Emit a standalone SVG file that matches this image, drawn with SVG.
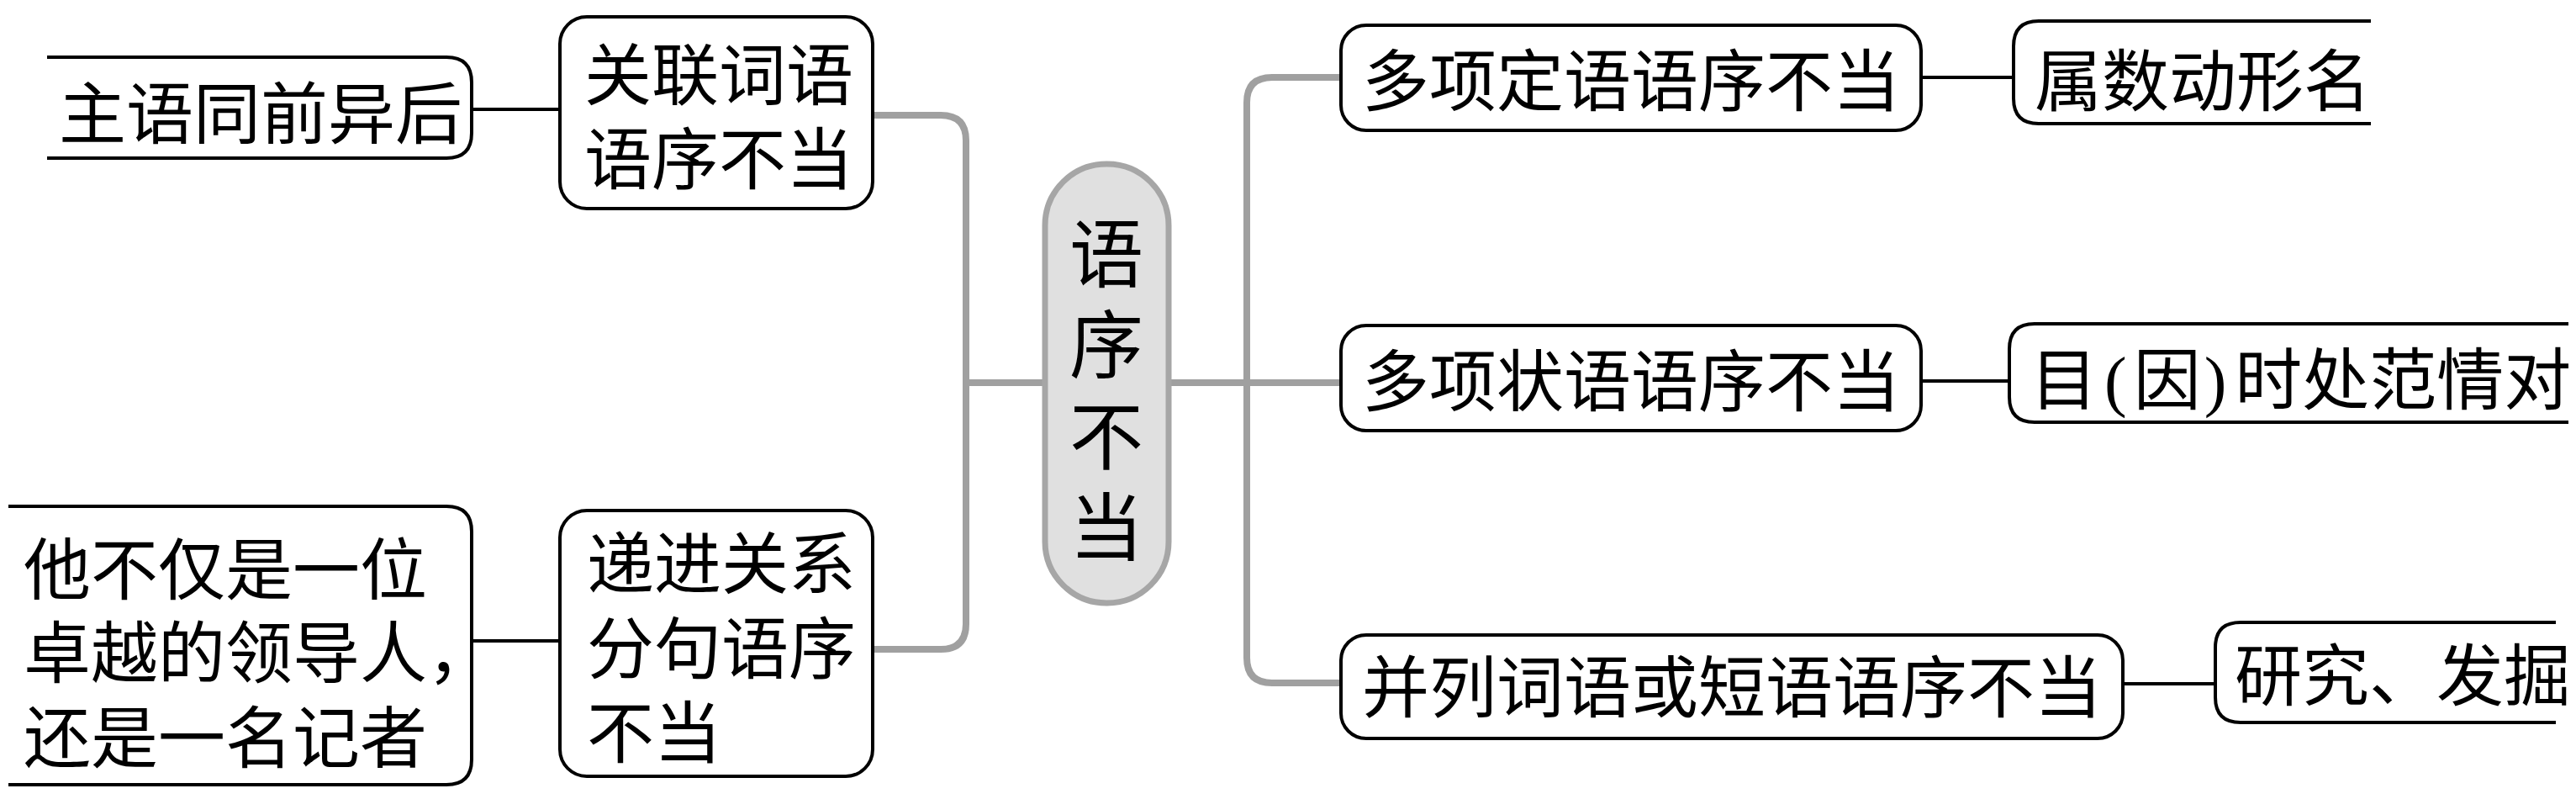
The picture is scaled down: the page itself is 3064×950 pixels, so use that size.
<svg xmlns="http://www.w3.org/2000/svg" width="3064" height="950" viewBox="0 0 3064 950">
<style>
.box{fill:#fff;stroke:#000;stroke-width:4}
.t{font-family:"Liberation Serif","Noto Sans CJK SC",serif;font-size:80px;fill:#000;dominant-baseline:central}
.c{font-family:"Liberation Sans","Noto Sans CJK SC",sans-serif;font-size:88px;fill:#000;dominant-baseline:central;text-anchor:middle}
.g{fill:none;stroke:#a0a0a0;stroke-width:8}
.k{fill:none;stroke:#000;stroke-width:4}
</style>
<rect width="3064" height="950" fill="#fff"/>
<g id="connectors">
<path class="g" d="M1038,137 H1119 Q1149,137 1149,167 V742 Q1149,772 1119,772 H1038 M1149,455 H1243"/>
<path class="g" d="M1390,455 H1595 M1595,92 H1513 Q1483,92 1483,122 V782 Q1483,812 1513,812 H1595"/>
<path class="k" d="M561,130 H666 M561,762 H666 M2285,92 H2395 M2285,453 H2390 M2525,813 H2635"/>
</g>
<g id="center">
<rect x="1243" y="195" width="147" height="522" rx="73" fill="#e0e0e0" stroke="#a6a6a6" stroke-width="7"/>
<text class="c"><tspan x="1316" y="303">语</tspan><tspan x="1316" y="411">序</tspan><tspan x="1316" y="520">不</tspan><tspan x="1316" y="628">当</tspan></text>
</g>
<g id="n-guanlian">
<rect class="box" x="666" y="20" width="372" height="228" rx="32"/>
<text class="t"><tspan x="695" y="91">关联词语</tspan><tspan x="695" y="191">语序不当</tspan></text>
</g>
<g id="n-zhuyu">
<path class="box" d="M56,68 H531 Q561,68 561,98 V158 Q561,188 531,188 H56"/>
<text class="t" x="70" y="137">主语同前异后</text>
</g>
<g id="n-dijin">
<rect class="box" x="666" y="607" width="372" height="316" rx="32"/>
<text class="t"><tspan x="698" y="672">递进关系</tspan><tspan x="698" y="773">分句语序</tspan><tspan x="698" y="873">不当</tspan></text>
</g>
<g id="n-ta">
<path class="box" d="M10,602 H531 Q561,602 561,632 V903 Q561,933 531,933 H10"/>
<text class="t"><tspan x="28" y="679">他不仅是一位</tspan><tspan x="28" y="778">卓越的领导人，</tspan><tspan x="28" y="879">还是一名记者</tspan></text>
</g>
<g id="n-dingyu">
<rect class="box" x="1595" y="30" width="690" height="125" rx="30"/>
<text class="t" x="1620" y="98">多项定语语序不当</text>
</g>
<g id="n-shushu">
<path class="box" d="M2820,25 H2425 Q2395,25 2395,55 V117 Q2395,147 2425,147 H2820"/>
<text class="t" x="2420" y="98">属数动形名</text>
</g>
<g id="n-zhuangyu">
<rect class="box" x="1595" y="387" width="690" height="125" rx="30"/>
<text class="t" x="1620" y="455">多项状语语序不当</text>
</g>
<g id="n-mu">
<path class="box" d="M3055,385 H2420 Q2390,385 2390,415 V472 Q2390,502 2420,502 H3055"/>
<text class="t" x="2415" y="453">目<tspan dx="8">(</tspan><tspan dx="8">因</tspan><tspan dx="4">)</tspan><tspan dx="10">时处范情对</tspan></text>
</g>
<g id="n-binglie">
<rect class="box" x="1595" y="755" width="930" height="123" rx="30"/>
<text class="t" x="1620" y="819">并列词语或短语语序不当</text>
</g>
<g id="n-yanjiu">
<path class="box" d="M3040,740 H2665 Q2635,740 2635,770 V829 Q2635,859 2665,859 H3040"/>
<text class="t" x="2658" y="805">研究、发掘</text>
</g>
</svg>
